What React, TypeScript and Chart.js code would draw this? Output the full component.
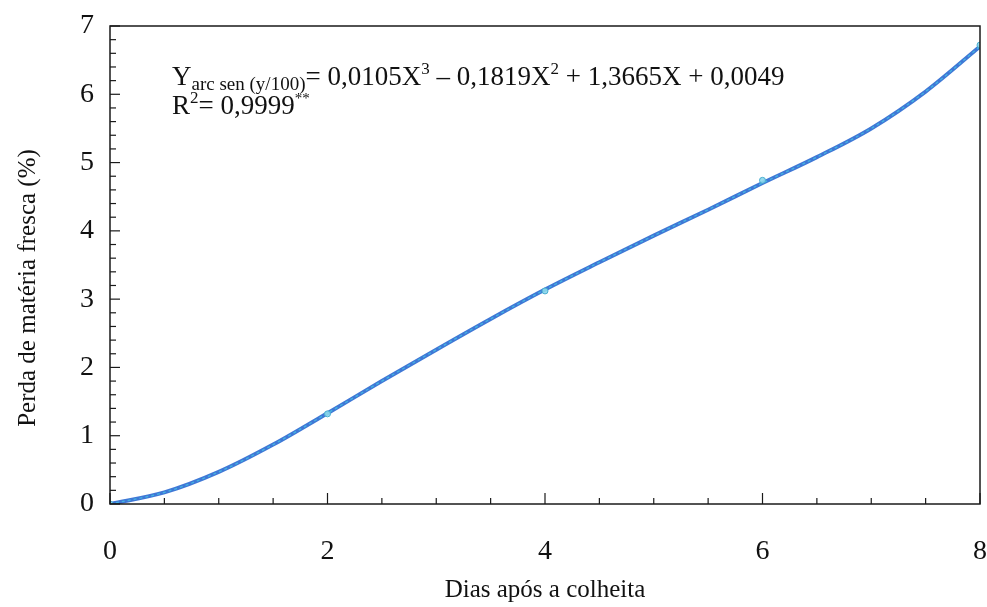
import React, { useEffect, useRef } from "react";
import { Chart, registerables } from "chart.js";

Chart.register(...registerables);

// Fitted curve of fresh-mass loss (%) against days after harvest
const curveDays = [0, 0.5, 1, 1.5, 2, 2.5, 3, 3.5, 4, 4.5, 5, 5.5, 6, 6.5, 7, 7.5, 8];
const curveLoss = [0, 0.17, 0.47, 0.87, 1.33, 1.8, 2.26, 2.71, 3.14, 3.54, 3.93, 4.31, 4.7, 5.08, 5.5, 6.04, 6.7];

// Measured means
const observedDays = [0, 2, 4, 6, 8];
const observedLoss = [0, 1.32, 3.12, 4.74, 6.72];

const xTicks = [0, 2, 4, 6, 8];
const yTicks = [0, 1, 2, 3, 4, 5, 6, 7];

const xTitle = "Dias após a colheita";
const yTitle = "Perda de matéria fresca (%)";

const SERIF = '"Liberation Serif", "Times New Roman", serif';

const W = 987;
const H = 607;

type Piece = { t: string; size: number; dy: number };

const eqLine1: Piece[] = [
  { t: "Y", size: 27, dy: 0 },
  { t: "arc sen (y/100)", size: 19, dy: 5 },
  { t: "= 0,0105X", size: 27, dy: 0 },
  { t: "3", size: 17, dy: -11 },
  { t: " – 0,1819X", size: 27, dy: 0 },
  { t: "2", size: 17, dy: -11 },
  { t: " + 1,3665X + 0,0049", size: 27, dy: 0 },
];
const eqLine2: Piece[] = [
  { t: "R", size: 27, dy: 0 },
  { t: "2", size: 17, dy: -11 },
  { t: "= 0,9999", size: 27, dy: 0 },
  { t: "**", size: 15, dy: -11 },
];

const framePlugin = {
  id: "frameAndNotes",
  afterDraw(chart: any) {
    const { ctx, chartArea } = chart;
    const { left, right, top, bottom } = chartArea;
    const xs = chart.scales.x;
    const ys = chart.scales.y;
    ctx.save();
    ctx.strokeStyle = "#1a1a1a";
    ctx.lineWidth = 1.5;
    ctx.strokeRect(left, top, right - left, bottom - top);

    // inward ticks on the left axis: major every 1, minor every 0.2
    ctx.lineWidth = 1.2;
    for (let i = 0; i <= 35; i++) {
      const v = i * 0.2;
      const y = ys.getPixelForValue(v);
      const len = i % 5 === 0 ? 10 : 6;
      ctx.beginPath();
      ctx.moveTo(left, y);
      ctx.lineTo(left + len, y);
      ctx.stroke();
    }
    // inward ticks on the bottom axis: major every 2, minor every 0.5
    for (let i = 0; i <= 16; i++) {
      const v = i * 0.5;
      const x = xs.getPixelForValue(v);
      const len = i % 4 === 0 ? 11 : 6;
      ctx.beginPath();
      ctx.moveTo(x, bottom);
      ctx.lineTo(x, bottom - len);
      ctx.stroke();
    }

    // axis titles
    ctx.fillStyle = "#111";
    ctx.font = `25px ${SERIF}`;
    ctx.textAlign = "center";
    ctx.textBaseline = "middle";
    ctx.fillText(xTitle, (left + right) / 2, 590);
    ctx.save();
    ctx.translate(28, 288);
    ctx.rotate(-Math.PI / 2);
    ctx.fillText(yTitle, 0, 0);
    ctx.restore();

    // regression equation
    ctx.textAlign = "left";
    ctx.textBaseline = "alphabetic";
    const drawLine = (pieces: Piece[], x0: number, base: number) => {
      let x = x0;
      for (const p of pieces) {
        ctx.font = `${p.size}px ${SERIF}`;
        ctx.fillText(p.t, x, base + p.dy);
        x += ctx.measureText(p.t).width;
      }
    };
    drawLine(eqLine1, 172, 85);
    drawLine(eqLine2, 172, 114);
    ctx.restore();
  },
};

export default function App() {
  const canvasRef = useRef<HTMLCanvasElement | null>(null);

  useEffect(() => {
    const canvas = canvasRef.current;
    if (!canvas) return;
    const chart = new Chart(canvas, {
      type: "scatter",
      data: {
        datasets: [
          {
            label: "Ajuste",
            data: curveDays.map((d, i) => ({ x: d, y: curveLoss[i] })),
            showLine: true,
            borderColor: "#3f78d6",
            borderWidth: 4,
            pointRadius: 0,
            cubicInterpolationMode: "monotone",
            order: 2,
          },
          {
            label: "Ajuste (brilho)",
            data: curveDays.map((d, i) => ({ x: d, y: curveLoss[i] })),
            showLine: true,
            borderColor: "rgba(70, 200, 230, 0.75)",
            borderWidth: 1.3,
            borderDash: [3, 3],
            pointRadius: 0,
            cubicInterpolationMode: "monotone",
            order: 1,
          },
          {
            label: "Observado",
            data: observedDays.map((d, i) => ({ x: d, y: observedLoss[i] })),
            showLine: false,
            pointRadius: 3,
            pointBackgroundColor: "rgba(140, 215, 235, 0.9)",
            pointBorderColor: "#4aaed0",
            pointBorderWidth: 1,
            order: 0,
          },
        ],
      },
      options: {
        responsive: false,
        animation: false,
        layout: { padding: { top: 26, right: 7, left: 0, bottom: 0 } },
        plugins: {
          legend: { display: false },
          tooltip: { enabled: false },
        },
        scales: {
          x: {
            type: "linear",
            min: 0,
            max: 8,
            afterFit: (scale: any) => {
              scale.height = H - 504;
              scale.paddingLeft = 0;
              scale.paddingRight = 0;
            },
            afterBuildTicks: (scale: any) => {
              scale.ticks = xTicks.map((v) => ({ value: v }));
            },
            grid: { display: false, drawTicks: false },
            border: { display: false },
            ticks: {
              padding: 31,
              color: "#111",
              font: { family: SERIF, size: 28 },
              maxRotation: 0,
            },
          },
          y: {
            type: "linear",
            min: 0,
            max: 7,
            afterFit: (scale: any) => {
              scale.width = 110;
              scale.paddingTop = 0;
              scale.paddingBottom = 0;
            },
            afterBuildTicks: (scale: any) => {
              scale.ticks = yTicks.map((v) => ({ value: v }));
            },
            grid: { display: false, drawTicks: false },
            border: { display: false },
            ticks: {
              padding: 16,
              color: "#111",
              font: { family: SERIF, size: 28 },
            },
          },
        },
      },
      plugins: [framePlugin],
    } as any);
    return () => chart.destroy();
  }, []);

  return (
    <div style={{ position: "fixed", left: 0, top: 0, width: W, height: H, background: "#fff" }}>
      <canvas ref={canvasRef} width={W} height={H} style={{ display: "block" }} />
    </div>
  );
}
